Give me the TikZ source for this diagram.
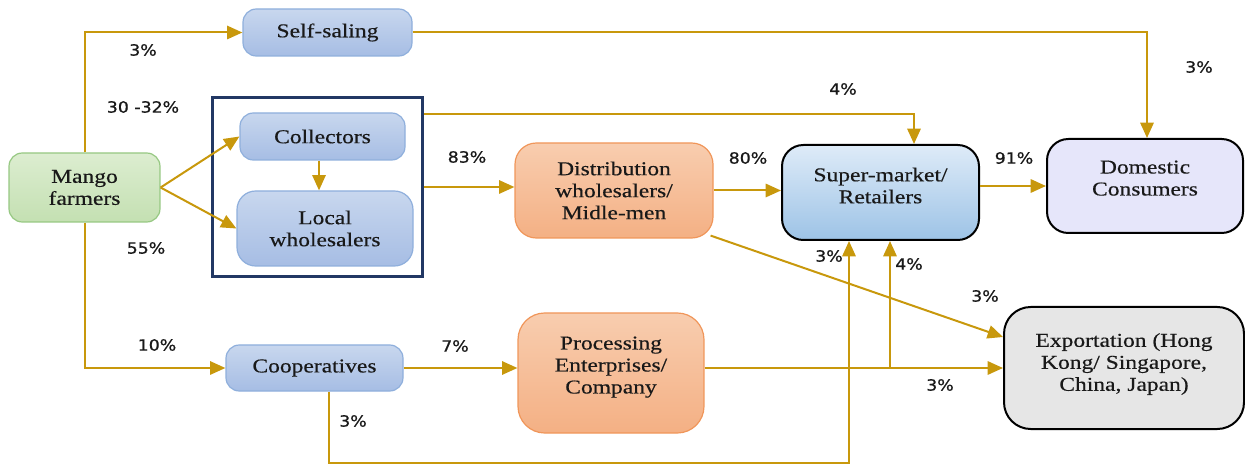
\documentclass[tikz,border=0pt]{standalone}
\usepackage{fontspec}
\setmainfont{Liberation Serif}[FakeStretch=1.2,FakeBold=0.4]
\newfontfamily\lblfont{DejaVu Sans}[FakeStretch=1.12,FakeBold=0.8]
\usetikzlibrary{arrows.meta,calc}
\definecolor{gold}{RGB}{200,152,12}
\definecolor{navy}{RGB}{34,56,100}
\definecolor{txt}{RGB}{25,25,25}
\tikzset{
  box/.style={rounded corners=10pt, align=center, text=txt, inner sep=2pt,
    font=\fontsize{14.7}{16.5}\selectfont},
  bluebox/.style={box, draw={rgb,255:red,143;green,175;blue,220}, line width=0.9pt,
    top color={rgb,255:red,200;green,215;blue,238}, bottom color={rgb,255:red,166;green,189;blue,228}},
  greenbox/.style={box, draw={rgb,255:red,150;green,200;blue,130}, line width=0.9pt,
    top color={rgb,255:red,220;green,237;blue,208}, bottom color={rgb,255:red,196;green,224;blue,178}},
  orangebox/.style={box, rounded corners=16pt, draw={rgb,255:red,240;green,150;blue,90}, line width=0.9pt,
    top color={rgb,255:red,248;green,205;blue,175}, bottom color={rgb,255:red,244;green,176;blue,132}},
  blackbox/.style={box, rounded corners=16pt, draw=black, line width=1.5pt},
  frame/.style={draw=navy, line width=2.3pt},
  arr/.style={draw=gold, line width=1.5pt, -{Triangle[length=11.5pt,width=10pt]}},
  lbl/.style={text=txt, font=\lblfont\fontsize{11.6}{13}\selectfont, inner sep=0pt},
}
\begin{document}
\begin{tikzpicture}[x=0.75pt,y=-0.75pt]
\useasboundingbox (0,0) rectangle (1245,466);

% nodes
\node[bluebox, minimum width=126.75pt, minimum height=35.25pt] (self) at (327.5,32.5) {Self-saling};
\node[greenbox, minimum width=113.25pt, minimum height=51.75pt] (mango) at (84.5,187.5) {Mango\\farmers};
\node[frame, minimum width=157.5pt, minimum height=134pt] (frm) at (317.5,187) {};
\node[bluebox, minimum width=123.75pt, minimum height=35.25pt] (coll) at (322.5,136.5) {Collectors};
\node[bluebox, rounded corners=14pt, minimum width=132pt, minimum height=56.25pt] (local) at (325,228.5) {Local\\wholesalers};
\node[orangebox, minimum width=148.5pt, minimum height=71.25pt] (dist) at (614,190.5) {Distribution\\wholesalers/\\Midle-men};
\node[blackbox, minimum width=147.75pt, minimum height=71.25pt,
  top color={rgb,255:red,222;green,235;blue,248}, bottom color={rgb,255:red,157;green,195;blue,230}]
  (super) at (880.5,192.5) {Super-market/\\Retailers\\[-6pt]};
\node[blackbox, fill={rgb,255:red,230;green,230;blue,250}, minimum width=147pt, minimum height=70.5pt]
  (dom) at (1145,186) {Domestic\\Consumers\\[-4.5pt]};
\node[bluebox, minimum width=132.75pt, minimum height=34.5pt] (coop) at (314.5,368) {Cooperatives};
\node[orangebox, rounded corners=20pt, minimum width=139.5pt, minimum height=90pt] (proc) at (611,373) {Processing\\Enterprises/\\Company\\[-4.5pt]};
\node[blackbox, rounded corners=20pt, fill={rgb,255:red,230;green,230;blue,230}, minimum width=180pt, minimum height=91.5pt]
  (exp) at (1124,368) {Exportation (Hong\\Kong/ Singapore,\\China, Japan)\\[-7.5pt]};

% helper coordinates
\coordinate (frmtop) at ($(frm.north east)+(0,18)$);
\coordinate (suptop) at ($(super.north)+(33.5,0)$);
\coordinate (coopbot) at ($(coop.south)+(14.5,0)$);
\coordinate (bottomy) at (0,463);
\coordinate (supbotL) at ($(super.south)+(-31.5,0)$);
\coordinate (supbotR) at ($(super.south)+(9.5,0)$);
\coordinate (expup) at ($(exp.west)+(0,-31)$);

% connectors
\draw[arr] (mango.north) |- (self.west);
\draw[arr] (self.east) -| ($(dom.north)+(2,0)$);
\draw[arr] (mango.east) -- (coll.west);
\draw[arr] (mango.east) -- (local.west);
\draw[arr] ($(coll.south)+(-3.5,0)$) -- ($(coll.south |- local.north)+(-3.5,0)$);
\draw[arr] (frmtop) -| (suptop);
\draw[arr] (frm.east) -- (frm.east -| dist.west);
\draw[arr] (dist.east) -- (dist.east -| super.west);
\draw[arr] (dom.west -| super.east) -- (dom.west);
\draw[arr] ($(dist.south east)+(-3,-3)$) -- (expup);
\draw[arr] (mango.south) |- (coop.west);
\draw[arr] (coop.east) -- (coop.east -| proc.west);
\draw[arr] (coopbot) -- (coopbot |- bottomy) -| (supbotL);
\draw[arr] (exp.west -| proc.east) -- (exp.west);
\draw[arr] (supbotR |- exp.west) -- (supbotR);

% labels
\node[lbl] (l1) at (143,50) {3\%};
\node[lbl] (l2) at (143,107) {30 -32\%};
\node[lbl] (l3) at (146,248) {55\%};
\node[lbl] (l4) at (157,345) {10\%};
\node[lbl] (l5) at (467,157) {83\%};
\node[lbl] (l6) at (843,89) {4\%};
\node[lbl] (l7) at (748,158) {80\%};
\node[lbl] (l8) at (1199,67) {3\%};
\node[lbl] (l9) at (1014,158) {91\%};
\node[lbl] (l10) at (829,256) {3\%};
\node[lbl] (l11) at (909,264) {4\%};
\node[lbl] (l12) at (985,296) {3\%};
\node[lbl] (l13) at (455,346) {7\%};
\node[lbl] (l14) at (940,385) {3\%};
\node[lbl] (l15) at (353,421) {3\%};
\end{tikzpicture}
\end{document}
